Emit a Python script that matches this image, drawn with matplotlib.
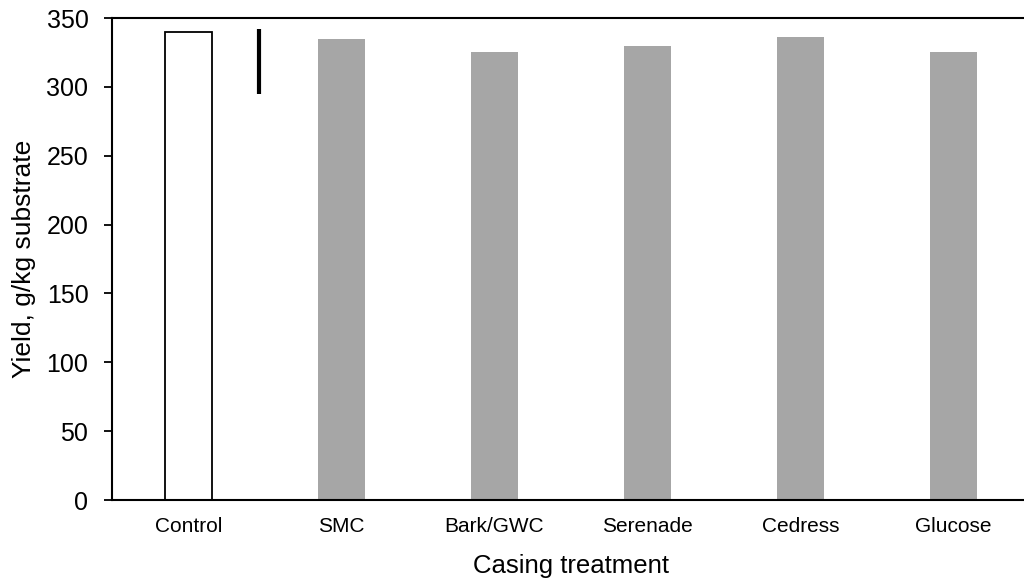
import matplotlib
matplotlib.use("Agg")
import matplotlib.pyplot as plt

categories = ["Control", "SMC", "Bark/GWC", "Serenade", "Cedress", "Glucose"]
yields = [340, 335, 325, 330, 336, 325]
lsd_x = 0.46
lsd_low = 295
lsd_high = 342
yticks = [0, 50, 100, 150, 200, 250, 300, 350]

plt.rcParams['font.family'] = ['Liberation Sans', 'DejaVu Sans']

fig = plt.figure(figsize=(10.24, 5.79), dpi=100)
ax = fig.add_axes([112/1024, 79/579, (1030-112)/1024, (500-18)/579])

x = list(range(len(categories)))
facecolors = ["white"] + ["#a6a6a6"] * (len(categories) - 1)
edgecolors = ["black"] + ["#a6a6a6"] * (len(categories) - 1)
lws = [1.3] + [0.0] * (len(categories) - 1)
ax.bar(x, yields, width=0.31, color=facecolors, edgecolor=edgecolors, linewidth=lws, zorder=2)

ax.vlines(lsd_x, lsd_low, lsd_high, color="black", linewidth=3.0, zorder=3)

ax.set_xlim(-0.5, len(categories) - 0.5)
ax.set_ylim(0, 350)
ax.set_yticks(yticks)
ax.tick_params(axis='y', labelsize=18, length=6, width=1.3, direction='out', pad=11)
ax.tick_params(axis='x', labelsize=15, length=0, pad=12)
ax.set_xticks(x)
ax.set_xticklabels(categories)

for s in ["left", "bottom", "top"]:
    ax.spines[s].set_linewidth(1.5)
ax.spines["right"].set_visible(False)

ax.set_xlabel("Casing treatment", fontsize=18.5, labelpad=13)
ax.set_ylabel("Yield, g/kg substrate", fontsize=19, labelpad=7.5)

fig.savefig("out.png", dpi=100)
